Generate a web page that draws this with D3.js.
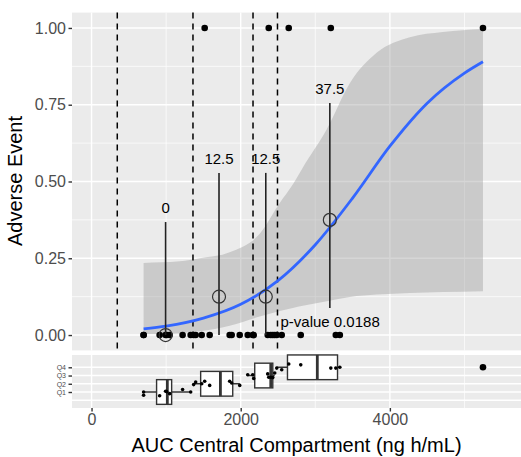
<!DOCTYPE html>
<html>
<head>
<meta charset="utf-8">
<script src="https://cdn.jsdelivr.net/npm/d3@7"></script>
<style>
body{margin:0;background:#fff;}
svg{font-family:"Liberation Sans",Arial,sans-serif;}
</style>
</head>
<body>
<div id="chart"></div>
<script>
// subject level data (AUC, adverse event 0/1, exposure quartile, jitter used in box strip)
var auc=[698,698,913,993,1007,1047,1221,1329,
         1369,1396,1477,1517,1584,1852,1879,1987,
         2094,2161,2174,2362,2376,2403,2430,2456,
         2483,2550,2644,2805,3208,3275,3329,5248];
var event=[0,0,0,0,0,0,0,0,
           0,0,0,1,0,0,0,0,
           0,0,0,0,1,0,0,0,
           0,0,1,0,1,0,0,1];
var quart=[1,1,1,1,1,1,1,1,2,2,2,2,2,2,2,2,3,3,3,3,3,3,3,3,4,4,4,4,4,4,4,4];
var jit=[-0.4,0,-0.45,0.1,0.05,-0.2,0.3,0,
         -0.1,0.2,0,0.3,-0.2,0.3,0.1,-0.2,
         0.1,0.1,-0.35,0.2,-0.2,-0.2,-0.25,0.3,
         -0.1,-0.3,0.4,0.3,-0.1,-0.1,0,0];

// quartile summaries: mean AUC, % with event, binomial CI
var qName=['Q1','Q2','Q3','Q4'];
var qMean=[993,1709,2336,3195];
var qProp=[0,0.125,0.125,0.375];
var qLow=[0,0,0,0.088];
var qHigh=[0.368,0.528,0.528,0.756];
var qLabel=['0','12.5','12.5','37.5'];

// box stats per quartile
var boxLo=[698,1369,2094,2483];
var boxQ1=[872,1463,2188,2627];
var boxMed=[1016,1728,2403,3027];
var boxQ3=[1074,1893,2430,3298];
var boxHi=[1329,1987,2456,3329];
var boxOut=[5248];

// cut points (dashed)
var cuts=[345,1360,2165,2493];

// logistic fit and confidence band
var fitX=[698,1000,1500,2000,2500,3000,3500,4000,4500,5000,5248];
var fitY=[0.02,0.029,0.055,0.10,0.177,0.294,0.446,0.615,0.755,0.853,0.89];
var bandX=[698,1183,1450,1852,2255,2523,2698,2832,3154,3463,3826,4268,4711,5248];
var bandHi=[0.235,0.24,0.25,0.27,0.33,0.43,0.49,0.545,0.67,0.82,0.92,0.97,0.987,0.997];
var bandLo=[0.003,0.006,0.012,0.03,0.06,0.078,0.088,0.095,0.11,0.124,0.132,0.137,0.14,0.143];

var pText='p-value 0.0188';
var xTicks=[0,2000,4000];
var yTicks=[0,0.25,0.5,0.75,1];

var W=521,H=457;
var left=72,right=521;
var top1=12.6,bot1=350.4,top2=355,bot2=408;

var svg=d3.select('#chart').append('svg')
    .attr('width',W).attr('height',H);

var x=d3.scaleLinear().domain([-262,5758]).range([left,right]);
var y=d3.scaleLinear().domain([-0.05,1.05]).range([bot1,top1]);
var yq=d3.scaleLinear().domain([-0.943,5.494]).range([bot2,top2]);

// panels
svg.append('rect').attr('x',left).attr('y',top1).attr('width',right-left).attr('height',bot1-top1).attr('fill','#EBEBEB');
svg.append('rect').attr('x',left).attr('y',top2).attr('width',right-left).attr('height',bot2-top2).attr('fill','#EBEBEB');

var xMinor=[1000,3000,5000];
[[top1,bot1],[top2,bot2]].forEach(function(p){
    svg.selectAll(null).data(xMinor).enter().append('line')
        .attr('x1',function(d){return x(d);}).attr('x2',function(d){return x(d);})
        .attr('y1',p[0]).attr('y2',p[1])
        .attr('stroke','#fff').attr('stroke-width',0.7);
    svg.selectAll(null).data(xTicks).enter().append('line')
        .attr('x1',function(d){return x(d);}).attr('x2',function(d){return x(d);})
        .attr('y1',p[0]).attr('y2',p[1])
        .attr('stroke','#fff').attr('stroke-width',1.4);
});
svg.selectAll(null).data([0.125,0.375,0.625,0.875]).enter().append('line')
    .attr('x1',left).attr('x2',right)
    .attr('y1',function(d){return y(d);}).attr('y2',function(d){return y(d);})
    .attr('stroke','#fff').attr('stroke-width',0.7);
svg.selectAll(null).data(yTicks).enter().append('line')
    .attr('x1',left).attr('x2',right)
    .attr('y1',function(d){return y(d);}).attr('y2',function(d){return y(d);})
    .attr('stroke','#fff').attr('stroke-width',1.4);
svg.selectAll(null).data([0,1,2,3,4]).enter().append('line')
    .attr('x1',left).attr('x2',right)
    .attr('y1',function(d){return yq(d);}).attr('y2',function(d){return yq(d);})
    .attr('stroke','#fff').attr('stroke-width',1.4);

// confidence band + fit
var band=bandX.map(function(d,i){return {x:d,lo:bandLo[i],hi:bandHi[i]};});
svg.append('path').datum(band)
    .attr('d',d3.area().curve(d3.curveMonotoneX)
        .x(function(d){return x(d.x);})
        .y0(function(d){return y(d.lo);})
        .y1(function(d){return y(d.hi);}))
    .attr('fill','#999').attr('fill-opacity',0.4);

// cut lines
svg.selectAll('.cut').data(cuts).enter().append('line')
    .attr('class','cut')
    .attr('x1',function(d){return x(d);}).attr('x2',function(d){return x(d);})
    .attr('y1',top1).attr('y2',bot1)
    .attr('stroke','#000').attr('stroke-width',1.5)
    .attr('stroke-dasharray','6,5');

var fit=fitX.map(function(d,i){return {x:d,y:fitY[i]};});
svg.append('path').datum(fit)
    .attr('d',d3.line().curve(d3.curveMonotoneX)
        .x(function(d){return x(d.x);})
        .y(function(d){return y(d.y);}))
    .attr('fill','none').attr('stroke','#3366FF').attr('stroke-width',2.8);

// observed points
svg.selectAll('.pt').data(auc).enter().append('circle')
    .attr('class','pt')
    .attr('cx',function(d){return x(d);})
    .attr('cy',function(d,i){return y(event[i]);})
    .attr('r',3.3).attr('fill','#000');

// quartile CI, mean circle, label
svg.selectAll('.ci').data(qMean).enter().append('line')
    .attr('class','ci')
    .attr('x1',function(d){return x(d);}).attr('x2',function(d){return x(d);})
    .attr('y1',function(d,i){return y(qLow[i]);}).attr('y2',function(d,i){return y(qHigh[i]);})
    .attr('stroke','#222').attr('stroke-width',1.6);
svg.selectAll('.qc').data(qMean).enter().append('circle')
    .attr('class','qc')
    .attr('cx',function(d){return x(d);})
    .attr('cy',function(d,i){return y(qProp[i]);})
    .attr('r',6.5).attr('fill','none').attr('stroke','#333').attr('stroke-width',1.2);
svg.selectAll('.ql').data(qMean).enter().append('text')
    .attr('class','ql')
    .attr('x',function(d){return x(d);})
    .attr('y',function(d,i){return y(qHigh[i])-9;})
    .attr('text-anchor','middle')
    .attr('font-size',15).attr('fill','#000')
    .text(function(d,i){return qLabel[i];});

svg.append('text').attr('x',280.5).attr('y',327)
    .attr('font-size',15).attr('fill','#000').text(pText);

// box strip
svg.selectAll('.wh').data(qName).enter().append('line')
    .attr('class','wh')
    .attr('x1',function(d,i){return x(boxLo[i]);}).attr('x2',function(d,i){return x(boxHi[i]);})
    .attr('y1',function(d,i){return yq(i+1);}).attr('y2',function(d,i){return yq(i+1);})
    .attr('stroke','#333').attr('stroke-width',1.4);
svg.selectAll('.bx').data(qName).enter().append('rect')
    .attr('class','bx')
    .attr('x',function(d,i){return x(boxQ1[i]);})
    .attr('width',function(d,i){return x(boxQ3[i])-x(boxQ1[i]);})
    .attr('y',function(d,i){return yq(i+1+1.5);})
    .attr('height',function(d,i){return yq(i+1-1.5)-yq(i+1+1.5);})
    .attr('fill','#fff').attr('stroke','#333').attr('stroke-width',1.4);
svg.selectAll('.md').data(qName).enter().append('line')
    .attr('class','md')
    .attr('x1',function(d,i){return x(boxMed[i]);}).attr('x2',function(d,i){return x(boxMed[i]);})
    .attr('y1',function(d,i){return yq(i+1+1.5);}).attr('y2',function(d,i){return yq(i+1-1.5);})
    .attr('stroke','#333').attr('stroke-width',2.8);
svg.selectAll('.out').data(boxOut).enter().append('circle')
    .attr('class','out')
    .attr('cx',function(d){return x(d);}).attr('cy',yq(4))
    .attr('r',3.3).attr('fill','#000');
svg.selectAll('.jp').data(auc).enter().append('circle')
    .attr('class','jp')
    .attr('cx',function(d){return x(d);})
    .attr('cy',function(d,i){return yq(quart[i]+jit[i]);})
    .attr('r',1.8).attr('fill','#000');

// axes
var yAxis=svg.append('g').attr('transform','translate('+left+',0)')
    .call(d3.axisLeft(y).tickValues(yTicks).tickFormat(d3.format('.2f')).tickSize(3.5).tickPadding(2.5));
var qAxis=svg.append('g').attr('transform','translate('+left+',0)')
    .call(d3.axisLeft(yq).tickValues([1,2,3,4]).tickFormat(function(d){return qName[d-1];}).tickSize(3.5).tickPadding(2.5));
var xAxis=svg.append('g').attr('transform','translate(0,'+bot2+')')
    .call(d3.axisBottom(x).tickValues(xTicks).tickFormat(d3.format('d')).tickSize(3.5).tickPadding(2.5));
[yAxis,qAxis,xAxis].forEach(function(a){
    a.select('.domain').remove();
    a.selectAll('line').attr('stroke','#333').attr('stroke-width',1.4);
    a.selectAll('text').attr('fill','#4D4D4D').attr('font-size',16)
        .attr('font-family','"Liberation Sans",Arial,sans-serif');
});
qAxis.selectAll('text').attr('font-size',7);

svg.append('text')
    .attr('transform','translate(15,181) rotate(-90)')
    .attr('dy','0.35em').attr('text-anchor','middle')
    .attr('font-size',20).attr('fill','#000').text('Adverse Event');
svg.append('text')
    .attr('x',(left+right)/2).attr('y',452)
    .attr('text-anchor','middle')
    .attr('font-size',20).attr('fill','#000').text('AUC Central Compartment (ng h/mL)');
</script>
</body>
</html>
